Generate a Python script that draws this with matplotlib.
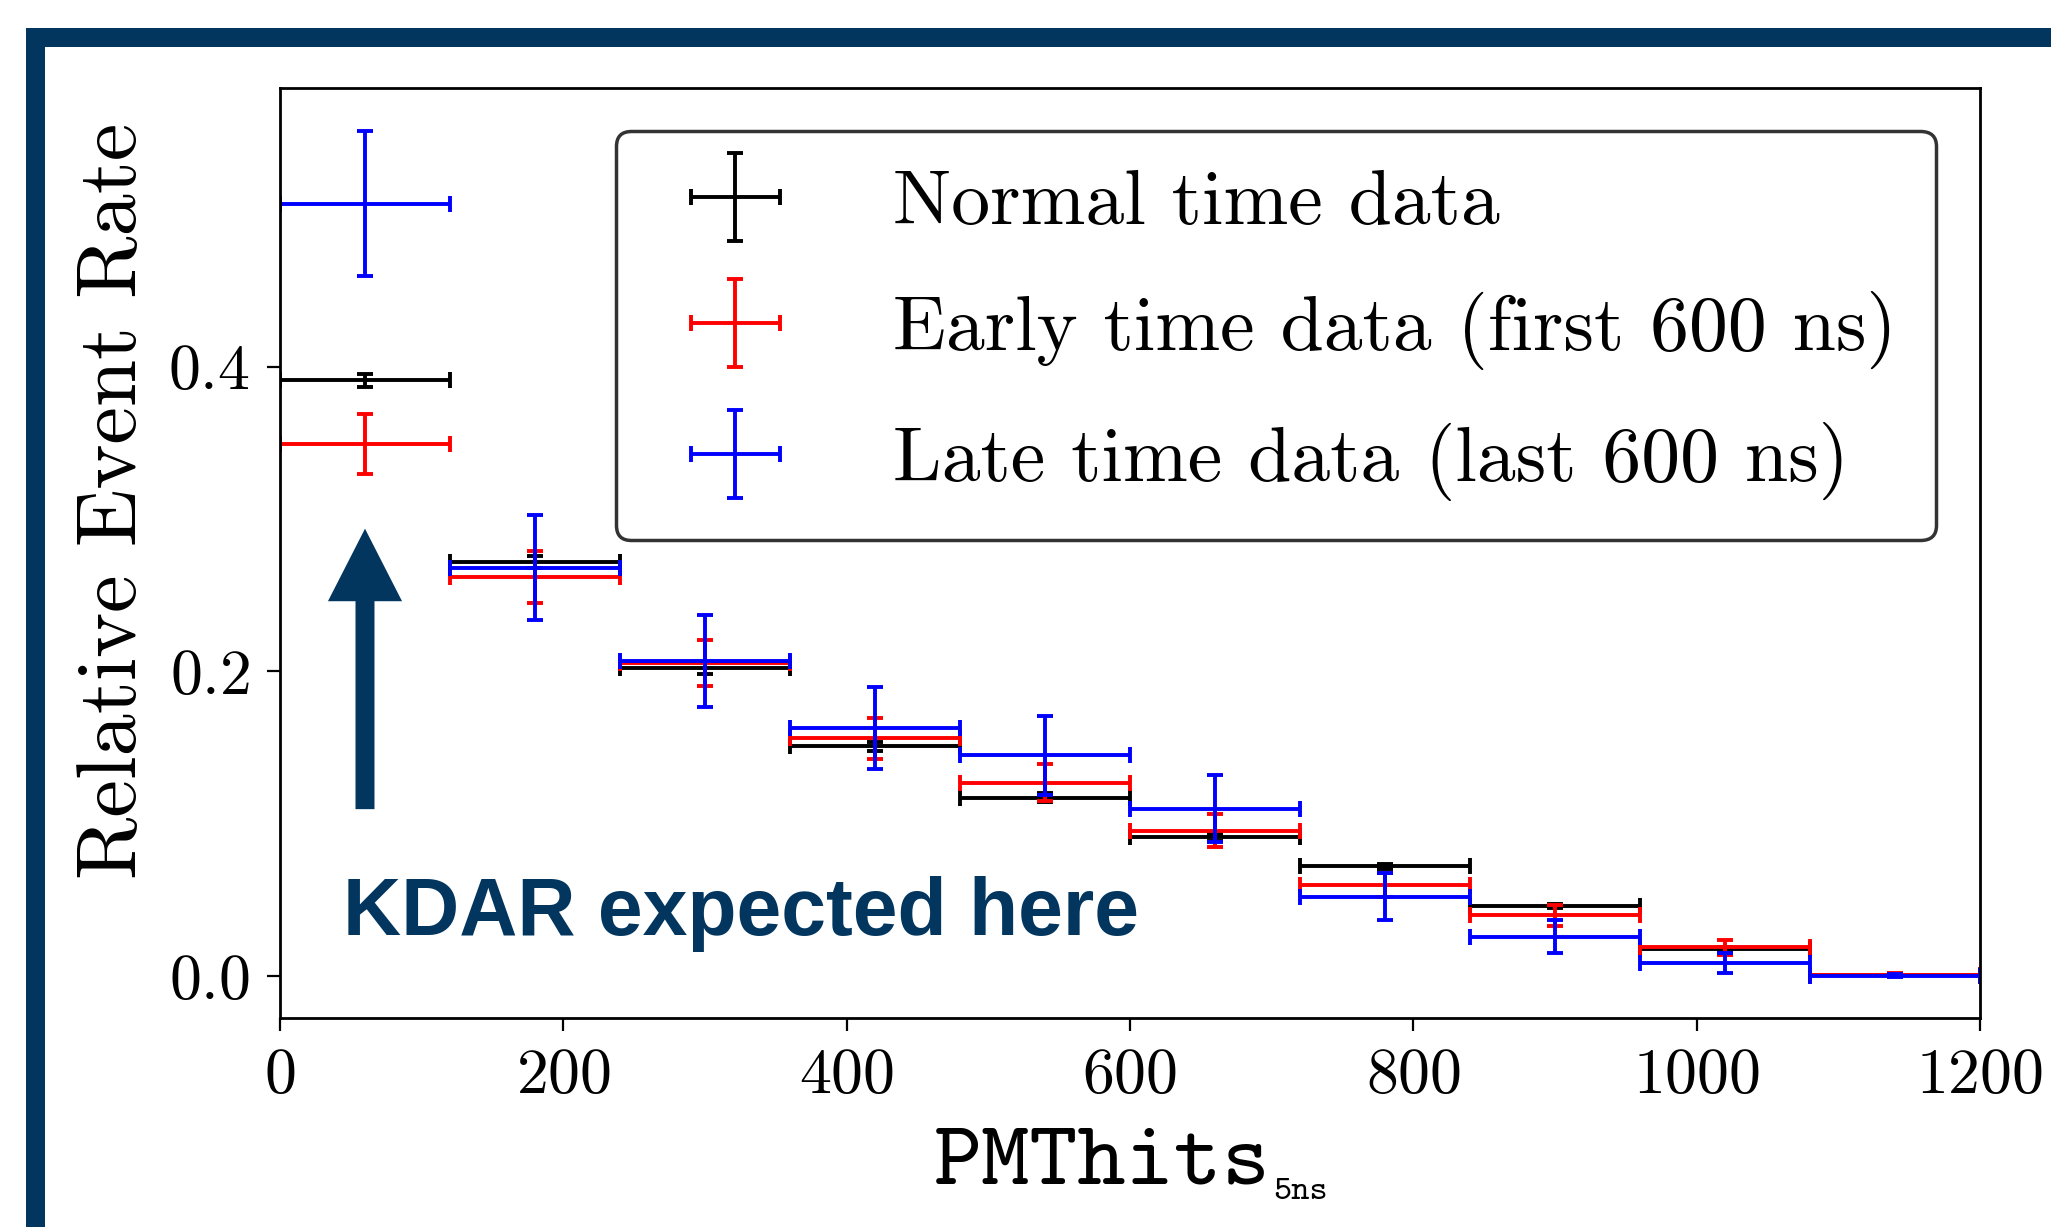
import matplotlib
matplotlib.use('Agg')
import matplotlib.pyplot as plt
from matplotlib.patches import FancyArrow, Rectangle
from matplotlib.legend_handler import HandlerErrorbar
from matplotlib.container import ErrorbarContainer

plt.rcParams['font.family'] = 'cmr10'
plt.rcParams['mathtext.fontset'] = 'cm'
plt.rcParams['axes.formatter.use_mathtext'] = True

# ---------------- data ----------------
bin_centers = [60, 180, 300, 420, 540, 660, 780, 900, 1020, 1140]
bin_halfwidth = [60, 60, 60, 60, 60, 60, 60, 60, 60, 60]

normal_rate = [0.391, 0.272, 0.202, 0.151, 0.117, 0.091, 0.072, 0.046, 0.018, 0.0005]
normal_err = [0.004, 0.004, 0.004, 0.003, 0.003, 0.002, 0.0015, 0.0015, 0.001, 0.0005]

early_rate = [0.349, 0.262, 0.2055, 0.156, 0.127, 0.0955, 0.060, 0.040, 0.019, 0.001]
early_err = [0.0197, 0.0173, 0.0153, 0.0132, 0.012, 0.0106, 0.008, 0.0068, 0.005, 0.0008]

late_rate = [0.507, 0.268, 0.207, 0.163, 0.145, 0.110, 0.052, 0.026, 0.0085, 0.0003]
late_err = [0.0475, 0.0345, 0.0302, 0.0269, 0.026, 0.0218, 0.0154, 0.0107, 0.0066, 0.0008]

series_labels = ['Normal time data', 'Early time data (first 600 ns)',
                 'Late time data (last 600 ns)']
series_colors = ['black', 'red', 'blue']

xticks = [0, 200, 400, 600, 800, 1000, 1200]
yticks = [0.0, 0.2, 0.4]

navy = '#02365F'

# ---------------- figure ----------------
W, H = 2051, 1227
fig = plt.figure(figsize=(W / 100, H / 100), dpi=100)

# decorative navy frame (top + left bars)
fig.patches.append(Rectangle((26 / W, 1 - 47 / H), 1 - 26 / W, 19 / H,
                             transform=fig.transFigure, facecolor=navy,
                             edgecolor='none', zorder=0))
fig.patches.append(Rectangle((26 / W, 0), 19 / W, 1 - 28 / H,
                             transform=fig.transFigure, facecolor=navy,
                             edgecolor='none', zorder=0))

ax = fig.add_axes([280 / W, 1 - 1018 / H, 1700 / W, 930 / H])

lw = 2.8
for rate, err, lab, col in zip([normal_rate, early_rate, late_rate],
                               [normal_err, early_err, late_err],
                               series_labels, series_colors):
    ax.errorbar(bin_centers, rate, xerr=bin_halfwidth, yerr=err, fmt='none',
                ecolor=col, elinewidth=lw, capsize=5.8, capthick=lw, label=lab)

ax.set_xlim(0, 1200)
ax.set_ylim(-0.0275, 0.583)
ax.set_xticks(xticks)
ax.set_yticks(yticks)
ax.tick_params(axis='both', which='major', labelsize=46, length=9.5, width=1.6,
               direction='out', pad=12)
for s in ax.spines.values():
    s.set_linewidth(2.0)

# y label
fig.text(115 / W, 1 - 501 / H, 'Relative Event Rate', rotation=90,
         ha='center', va='center', fontsize=61, family='cmr10')

# x label (typewriter with tiny subscript)
xl = ax.set_xlabel('PMThits', family='cmtt10', fontsize=66)
ax.xaxis.set_label_coords((1102 - 280) / 1700, (1018 - 1183) / 930)
xl.set_verticalalignment('baseline')
ax.annotate('5ns', xy=(1.0, 0.0), xycoords=xl, xytext=(2, -3),
            textcoords='offset points', ha='left', va='bottom',
            family='cmtt10', fontsize=25, annotation_clip=False)

# arrow + annotation
arrow = FancyArrow(60, 0.1096, 0, 0.1841, width=13.4, head_width=52.3,
                   head_length=0.0476, length_includes_head=True,
                   facecolor=navy, edgecolor='none', zorder=3)
ax.add_patch(arrow)
ax.text(44.5, 0.0273, 'KDAR expected here', family='Liberation Sans',
        fontweight='bold', fontsize=58, color=navy, ha='left', va='baseline')

# legend
leg = ax.legend(loc='upper right', bbox_to_anchor=(0.974, 0.954),
                borderaxespad=0, fontsize=56, borderpad=0.5,
                handlelength=2.08, handletextpad=0.99, labelspacing=0.67,
                fancybox=True, framealpha=1.0,
                handler_map={ErrorbarContainer: HandlerErrorbar(xerr_size=0.57)})
leg.get_frame().set_edgecolor('#333333')
leg.get_frame().set_linewidth(2.5)

fig.savefig('out.png', dpi=100)
